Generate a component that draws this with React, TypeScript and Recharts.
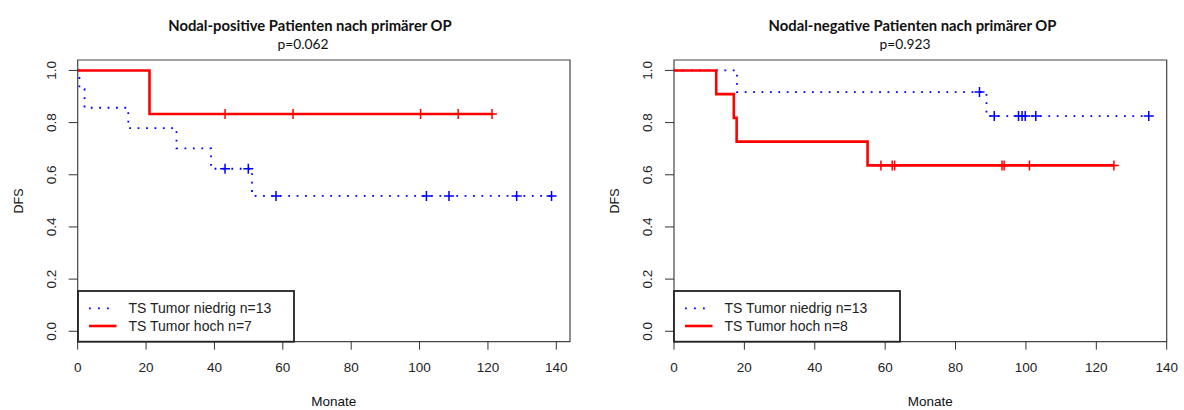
import { ComposedChart, Line, Scatter, XAxis, YAxis, ReferenceArea } from "recharts";

const xTicks = [0, 20, 40, 60, 80, 100, 120, 140];
const yTicks = [0, 0.2, 0.4, 0.6, 0.8, 1.0];

// Nodal-positive: TS Tumor niedrig (blue) / hoch (red)
const posLowTimes = [0, 0.5, 2, 14.8, 28.9, 39, 51, 138.6];
const posLowSurv = [1, 0.929, 0.857, 0.779, 0.701, 0.623, 0.519, 0.519];
const posLowCensTimes = [43.1, 49.9, 58, 102, 108.6, 128.4, 138.6];
const posLowCensSurv = [0.623, 0.623, 0.519, 0.519, 0.519, 0.519, 0.519];
const posHighTimes = [0, 21, 121.2];
const posHighSurv = [1, 0.833, 0.833];
const posHighCensTimes = [43.1, 63, 100.3, 111.3, 121.2];
const posHighCensSurv = [0.833, 0.833, 0.833, 0.833, 0.833];

// Nodal-negative
const negLowTimes = [0, 17.9, 88.8, 135];
const negLowSurv = [1, 0.917, 0.825, 0.825];
const negLowCensTimes = [86.8, 91, 97.9, 98.9, 99.8, 102.8, 134.9];
const negLowCensSurv = [0.917, 0.825, 0.825, 0.825, 0.825, 0.825, 0.825];
const negHighTimes = [0, 12, 17, 17.8, 55, 125];
const negHighSurv = [1, 0.909, 0.818, 0.727, 0.636, 0.636];
const negHighCensTimes = [58.8, 62, 62.7, 93.2, 93.8, 101, 125];
const negHighCensSurv = [0.636, 0.636, 0.636, 0.636, 0.636, 0.636, 0.636];

const BLUE = "#0000ff";
const RED = "#ff0000";
const SANS = "'Liberation Sans', Arial, sans-serif";
const TITLE_FONT = "Lato, 'Open Sans', sans-serif";

const zip = (t: number[], s: number[]) => t.map((v, i) => ({ t: v, s: s[i] }));

const W = 592;
const H = 410;
const PLOT_TOP = 60;
const PLOT_BOTTOM = 341.7;

function plusShape(color: string) {
  return (props: any) => {
    const { cx, cy } = props;
    if (cx == null || cy == null) return <g />;
    return (
      <g>
        <line x1={cx - 5} x2={cx + 5} y1={cy} y2={cy} stroke={color} strokeWidth={1.5} />
        <line x1={cx} x2={cx} y1={cy - 5} y2={cy + 5} stroke={color} strokeWidth={1.5} />
      </g>
    );
  };
}

function XTick(props: any) {
  const { x, y, payload } = props;
  return (
    <text x={x} y={y} dy={20} textAnchor="middle" fontFamily={SANS} fontSize={13.5} fill="#222">
      {payload.value}
    </text>
  );
}

function YTick(props: any) {
  const { x, y, payload } = props;
  const bx = x - 10.5;
  return (
    <text
      x={bx}
      y={y}
      transform={`rotate(-90 ${bx} ${y})`}
      textAnchor="middle"
      fontFamily={SANS}
      fontSize={13.5}
      fill="#222"
    >
      {Number(payload.value).toFixed(1)}
    </text>
  );
}

function Label({ x, y, children, style }: any) {
  return (
    <div
      style={{
        position: "absolute",
        left: x,
        top: y,
        transform: "translate(-50%, -50%)",
        whiteSpace: "nowrap",
        lineHeight: 1,
        color: "#111",
        ...style,
      }}
    >
      {children}
    </div>
  );
}

interface PanelCfg {
  title: string;
  p: string;
  titleX: number;
  pX: number;
  plotLeft: number;
  plotRight: number;
  xMax: number;
  legendW: number;
  lowLabel: string;
  highLabel: string;
  low: { t: number; s: number }[];
  high: { t: number; s: number }[];
  lowCens: { t: number; s: number }[];
  highCens: { t: number; s: number }[];
}

function Panel({ left, cfg }: { left: number; cfg: PanelCfg }) {
  const plotMid = (cfg.plotLeft + cfg.plotRight) / 2;
  return (
    <div style={{ position: "absolute", left, top: 0, width: W, height: H }}>
      <ComposedChart
        width={W}
        height={H}
        margin={{ top: PLOT_TOP, right: W - cfg.plotRight, bottom: 0, left: 0 }}
      >
        <XAxis
          type="number"
          dataKey="t"
          domain={[0, cfg.xMax]}
          ticks={xTicks}
          interval={0}
          allowDataOverflow
          axisLine={false}
          tickLine={{ stroke: "#333" }}
          tickSize={8}
          tick={<XTick />}
          height={H - PLOT_BOTTOM}
        />
        <YAxis
          type="number"
          dataKey="s"
          domain={[-0.04, 1.04]}
          ticks={yTicks}
          interval={0}
          allowDataOverflow
          axisLine={false}
          tickLine={{ stroke: "#333" }}
          tickSize={9}
          tick={<YTick />}
          width={cfg.plotLeft}
        />
        <ReferenceArea
          x1={0}
          x2={cfg.xMax}
          y1={-0.04}
          y2={1.04}
          fill="none"
          stroke="#444"
          strokeWidth={1.2}
          ifOverflow="visible"
        />
        <Line
          data={cfg.low}
          dataKey="s"
          type="stepAfter"
          stroke={BLUE}
          strokeWidth={1.8}
          strokeDasharray="1.8 6.6"
          dot={false}
          isAnimationActive={false}
        />
        <Line
          data={cfg.high}
          dataKey="s"
          type="stepAfter"
          stroke={RED}
          strokeWidth={2.6}
          dot={false}
          isAnimationActive={false}
        />
        <Scatter data={cfg.lowCens} dataKey="s" shape={plusShape(BLUE)} isAnimationActive={false} />
        <Scatter data={cfg.highCens} dataKey="s" shape={plusShape(RED)} isAnimationActive={false} />
      </ComposedChart>

      <Label x={cfg.titleX} y={25} style={{ fontFamily: TITLE_FONT, fontWeight: 700, fontSize: 14.8 }}>
        {cfg.title}
      </Label>
      <Label x={cfg.pX} y={44} style={{ fontFamily: TITLE_FONT, fontSize: 13.8 }}>
        {cfg.p}
      </Label>
      <Label x={plotMid + 10} y={402} style={{ fontFamily: SANS, fontSize: 13.5 }}>
        Monate
      </Label>
      <Label x={cfg.plotLeft - 59} y={201} style={{ fontFamily: SANS, fontSize: 12.5, transform: "translate(-50%, -50%) rotate(-90deg)" }}>
        DFS
      </Label>

      <svg
        style={{ position: "absolute", left: cfg.plotLeft - 1, top: 290 }}
        width={cfg.legendW}
        height={PLOT_BOTTOM - 290 + 1}
      >
        <rect x={1} y={1} width={cfg.legendW - 2} height={PLOT_BOTTOM - 290 - 1} fill="white" stroke="#222" strokeWidth={1.8} />
        <line x1={12} x2={34} y1={18.3} y2={18.3} stroke={BLUE} strokeWidth={1.8} strokeDasharray="1.8 7.2" />
        <line x1={12} x2={39.5} y1={36} y2={36} stroke={RED} strokeWidth={2.6} />
        <text x={51.5} y={23.3} fontFamily={SANS} fontSize={14} fill="#222">
          {cfg.lowLabel}
        </text>
        <text x={51.5} y={41} fontFamily={SANS} fontSize={14} fill="#222">
          {cfg.highLabel}
        </text>
      </svg>
    </div>
  );
}

const positive: PanelCfg = {
  title: "Nodal-positive Patienten nach primärer OP",
  p: "p=0.062",
  titleX: 310,
  pX: 303,
  plotLeft: 77.7,
  plotRight: 570,
  xMax: 144,
  legendW: 218,
  lowLabel: "TS Tumor niedrig n=13",
  highLabel: "TS Tumor hoch n=7",
  low: zip(posLowTimes, posLowSurv),
  high: zip(posHighTimes, posHighSurv),
  lowCens: zip(posLowCensTimes, posLowCensSurv),
  highCens: zip(posHighCensTimes, posHighCensSurv),
};

const negative: PanelCfg = {
  title: "Nodal-negative Patienten nach primärer OP",
  p: "p=0.923",
  titleX: 320.5,
  pX: 313,
  plotLeft: 82,
  plotRight: 574.7,
  xMax: 140,
  legendW: 228,
  lowLabel: "TS Tumor niedrig n=13",
  highLabel: "TS Tumor hoch n=8",
  low: zip(negLowTimes, negLowSurv),
  high: zip(negHighTimes, negHighSurv),
  lowCens: zip(negLowCensTimes, negLowCensSurv),
  highCens: zip(negHighCensTimes, negHighCensSurv),
};

export default function App() {
  return (
    <div style={{ position: "absolute", left: 0, top: 0, width: 1184, height: 410, background: "#fff" }}>
      <Panel left={0} cfg={positive} />
      <Panel left={592} cfg={negative} />
    </div>
  );
}
